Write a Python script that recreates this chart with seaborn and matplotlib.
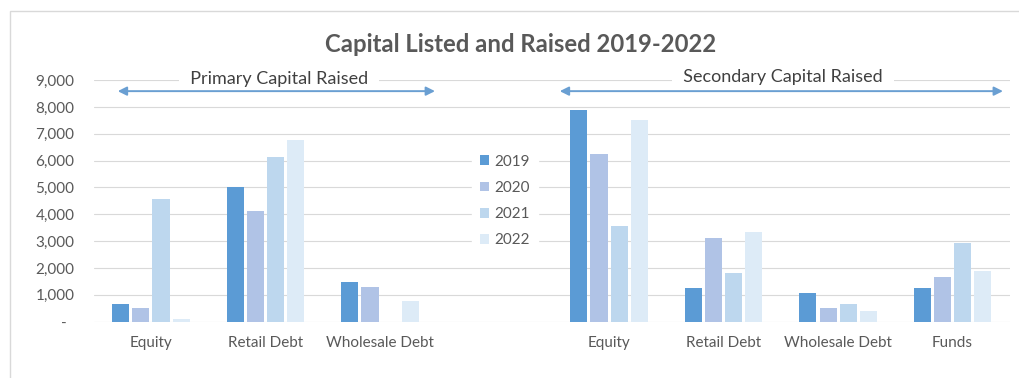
import matplotlib
matplotlib.use("Agg")
import matplotlib.pyplot as plt
import matplotlib.patches as mpatches
import seaborn as sns
import pandas as pd

# Categories: primary group, an empty spacer slot (holds the legend), secondary group
primary_labels = ["Equity", "Retail Debt", "Wholesale Debt"]
secondary_labels = ["Equity", "Retail Debt", "Wholesale Debt", "Funds"]
years = ["2019", "2020", "2021", "2022"]

# Capital raised per year, primary categories then secondary categories
v2019 = [650, 5000, 1470, 7900, 1240, 1080, 1240]
v2020 = [520, 4120, 1290, 6230, 3100, 520, 1660]
v2021 = [4580, 6120, 0, 3580, 1800, 650, 2940]
v2022 = [100, 6760, 780, 7510, 3330, 400, 1890]

yticks = [0, 1000, 2000, 3000, 4000, 5000, 6000, 7000, 8000, 9000]
ytick_labels = ["-  ", "1,000", "2,000", "3,000", "4,000", "5,000",
                "6,000", "7,000", "8,000", "9,000"]

colors = ["#5B9BD5", "#B0C3E6", "#BDD7EE", "#DDEBF7"]
text_color = "#595959"
grid_color = "#D9D9D9"
arrow_color = "#6A9FD2"

# Unique slot keys so the repeated category names stay separate
primary_keys = ["P " + c for c in primary_labels]
secondary_keys = ["S " + c for c in secondary_labels]
spacer = "spacer"
slot_order = primary_keys + [spacer] + secondary_keys
slot_labels = primary_labels + [""] + secondary_labels
data_keys = primary_keys + secondary_keys

rows = []
for year, vals in zip(years, [v2019, v2020, v2021, v2022]):
    for key, v in zip(data_keys, vals):
        rows.append({"slot": key, "year": year, "value": v})
df = pd.DataFrame(rows)

sns.set_theme(style="white")
plt.rcParams["font.family"] = ["Lato", "DejaVu Sans"]

fig = plt.figure(figsize=(10.2, 3.78), dpi=100)
ax = fig.add_axes([0.0919, 0.149, 0.8981, 0.639])

sns.barplot(data=df, x="slot", y="value", hue="year", order=slot_order,
            hue_order=years, palette=colors, saturation=1, width=0.7,
            gap=0.15, linewidth=0, ax=ax, zorder=3)

ax.set_ylim(0, 9000)
ax.set_xlim(-0.5, len(slot_order) - 0.5)
ax.set_yticks(yticks)
ax.set_yticklabels(ytick_labels)
ax.set_xticks(range(len(slot_order)))
ax.set_xticklabels(slot_labels)
ax.set_xlabel("")
ax.set_ylabel("")
ax.tick_params(axis="y", length=0, pad=14, labelsize=11, labelcolor=text_color)
ax.tick_params(axis="x", length=0, pad=10, labelsize=11, labelcolor=text_color)
ax.grid(axis="y", color=grid_color, linewidth=0.8, zorder=0)
ax.set_axisbelow(True)
for s in ax.spines.values():
    s.set_visible(False)

# Legend in the spacer slot
handles, labels = ax.get_legend_handles_labels()
leg = ax.legend(handles, labels, loc="center",
                bbox_to_anchor=(505 / 1020, 1 - 201 / 378),
                bbox_transform=fig.transFigure, frameon=True,
                fontsize=11, handlelength=0.6, handleheight=0.6,
                handletextpad=0.35, labelspacing=0.8, borderpad=0.5)
leg.get_frame().set_facecolor("white")
leg.get_frame().set_edgecolor("white")
leg.get_frame().set_alpha(1)
for t in leg.get_texts():
    t.set_color(text_color)

# Group spans with double-headed arrows and captions
arrow_y = 8590
ax.annotate("", xy=(-0.29, arrow_y), xytext=(2.48, arrow_y),
            arrowprops=dict(arrowstyle="<|-|>", color=arrow_color, lw=1.4,
                            mutation_scale=13, shrinkA=0, shrinkB=0),
            zorder=5)
ax.annotate("", xy=(3.57, arrow_y), xytext=(7.44, arrow_y),
            arrowprops=dict(arrowstyle="<|-|>", color=arrow_color, lw=1.4,
                            mutation_scale=13, shrinkA=0, shrinkB=0),
            zorder=5)
ax.text(1.12, 9060, "  Primary Capital Raised  ", ha="center", va="center",
        fontsize=13, color="#404040", zorder=4, clip_on=False,
        bbox=dict(boxstyle="square,pad=0.1", facecolor="white", edgecolor="none"))
ax.text(5.52, 9100, "  Secondary Capital Raised  ", ha="center", va="center",
        fontsize=13, color="#404040", zorder=4, clip_on=False,
        bbox=dict(boxstyle="square,pad=0.1", facecolor="white", edgecolor="none"))

fig.text(521 / 1020, 1 - 44 / 378, "Capital Listed and Raised 2019-2022",
         ha="center", va="center", fontsize=17.2, fontweight="bold",
         color=text_color)

# Light chart-area border
frame = mpatches.Rectangle((10 / 1020, -0.1), 1.2, 1 - 11 / 378 + 0.1,
                           transform=fig.transFigure, fill=False,
                           edgecolor=grid_color, linewidth=1, clip_on=False)
fig.add_artist(frame)

fig.savefig("out.png", dpi=100, facecolor="white")
